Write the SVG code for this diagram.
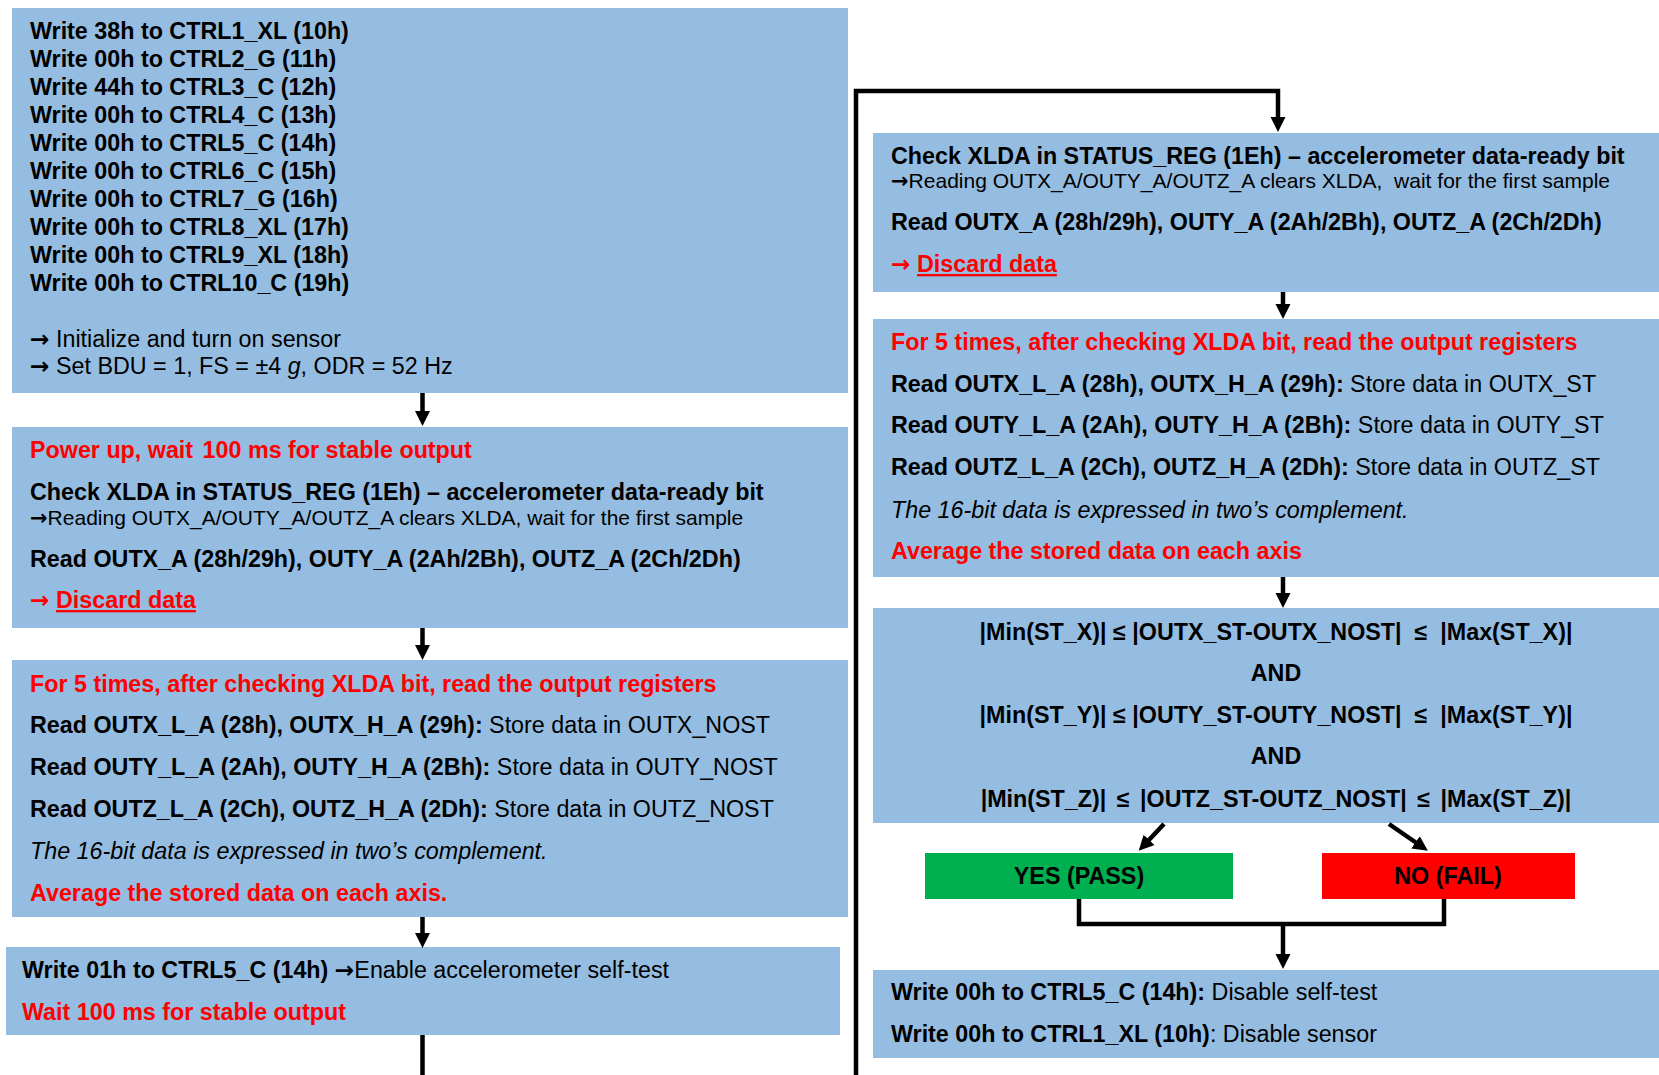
<svg xmlns="http://www.w3.org/2000/svg" width="1659" height="1075" viewBox="0 0 1659 1075">
<style>
.box{fill:#95BDE1}
text{font-family:"Liberation Sans",Arial,sans-serif;font-size:23.3px;fill:#000}
.b{font-weight:bold}
.red{fill:#FF0000}
.s{font-size:21px}
.it{font-style:italic}
.u{text-decoration:underline}
.c{text-anchor:middle}
.ar{font-family:"DejaVu Sans",sans-serif;font-weight:bold}
.conn{stroke:#000;stroke-width:4.5;fill:none}
</style>
<defs>
<marker id="ah" markerUnits="userSpaceOnUse" markerWidth="16" markerHeight="16" viewBox="0 0 16 16" refX="3" refY="7.5" orient="auto">
<path d="M0,0 L15,7.5 L0,15 z" fill="#000"/>
</marker>
</defs>
<rect width="1659" height="1075" fill="#fff"/>

<g id="init">
<rect class="box" x="12" y="8" width="836" height="385"/>
<text class="b" x="30" y="39">Write 38h to CTRL1_XL (10h)</text>
<text class="b" x="30" y="67">Write 00h to CTRL2_G (11h)</text>
<text class="b" x="30" y="95">Write 44h to CTRL3_C (12h)</text>
<text class="b" x="30" y="123">Write 00h to CTRL4_C (13h)</text>
<text class="b" x="30" y="151">Write 00h to CTRL5_C (14h)</text>
<text class="b" x="30" y="179">Write 00h to CTRL6_C (15h)</text>
<text class="b" x="30" y="207">Write 00h to CTRL7_G (16h)</text>
<text class="b" x="30" y="235">Write 00h to CTRL8_XL (17h)</text>
<text class="b" x="30" y="263">Write 00h to CTRL9_XL (18h)</text>
<text class="b" x="30" y="291">Write 00h to CTRL10_C (19h)</text>
<text x="30" y="347"><tspan class="ar">→</tspan> Initialize and turn on sensor</text>
<text x="30" y="374"><tspan class="ar">→</tspan> Set BDU = 1, FS = ±4 <tspan class="it">g</tspan>, ODR = 52 Hz</text>
</g>

<g id="powerup">
<rect class="box" x="12" y="427" width="836" height="201"/>
<text class="b red" x="30" y="458">Power up, wait <tspan dx="3">100 ms for stable output</tspan></text>
<text class="b" x="30" y="500">Check XLDA in STATUS_REG (1Eh) – accelerometer data-ready bit</text>
<text class="s" x="30" y="525"><tspan class="ar">→</tspan>Reading OUTX_A/OUTY_A/OUTZ_A clears XLDA, wait for the first sample</text>
<text class="b" x="30" y="567">Read OUTX_A (28h/29h), OUTY_A (2Ah/2Bh), OUTZ_A (2Ch/2Dh)</text>
<text class="b red" x="30" y="608"><tspan class="ar">→</tspan> <tspan class="u">Discard data</tspan></text>
</g>

<g id="nost">
<rect class="box" x="12" y="660" width="836" height="257"/>
<text class="b red" x="30" y="692">For 5 times, after checking XLDA bit, read the output registers</text>
<text x="30" y="733"><tspan class="b">Read OUTX_L_A (28h), OUTX_H_A (29h):</tspan> Store data in OUTX_NOST</text>
<text x="30" y="775"><tspan class="b">Read OUTY_L_A (2Ah), OUTY_H_A (2Bh):</tspan> Store data in OUTY_NOST</text>
<text x="30" y="817"><tspan class="b">Read OUTZ_L_A (2Ch), OUTZ_H_A (2Dh):</tspan> Store data in OUTZ_NOST</text>
<text class="it" x="30" y="859">The 16-bit data is expressed in two’s complement.</text>
<text class="b red" x="30" y="901">Average the stored data on each axis.</text>
</g>

<g id="enable">
<rect class="box" x="6" y="947" width="834" height="88"/>
<text x="22" y="978"><tspan class="b">Write 01h to CTRL5_C (14h) </tspan><tspan class="ar">→</tspan>Enable accelerometer self-test</text>
<text class="b red" x="22" y="1020">Wait 100 ms for stable output</text>
</g>

<g id="check2">
<rect class="box" x="873" y="133" width="786" height="159"/>
<text class="b" x="891" y="164">Check XLDA in STATUS_REG (1Eh) – accelerometer data-ready bit</text>
<text class="s" x="891" y="188" xml:space="preserve"><tspan class="ar">→</tspan>Reading OUTX_A/OUTY_A/OUTZ_A clears XLDA,  wait for the first sample</text>
<text class="b" x="891" y="230">Read OUTX_A (28h/29h), OUTY_A (2Ah/2Bh), OUTZ_A (2Ch/2Dh)</text>
<text class="b red" x="891" y="272"><tspan class="ar">→</tspan> <tspan class="u">Discard data</tspan></text>
</g>

<g id="st">
<rect class="box" x="873" y="319" width="786" height="258"/>
<text class="b red" x="891" y="350">For 5 times, after checking XLDA bit, read the output registers</text>
<text x="891" y="392"><tspan class="b">Read OUTX_L_A (28h), OUTX_H_A (29h):</tspan> Store data in OUTX_ST</text>
<text x="891" y="433"><tspan class="b">Read OUTY_L_A (2Ah), OUTY_H_A (2Bh):</tspan> Store data in OUTY_ST</text>
<text x="891" y="475"><tspan class="b">Read OUTZ_L_A (2Ch), OUTZ_H_A (2Dh):</tspan> Store data in OUTZ_ST</text>
<text class="it" x="891" y="518">The 16-bit data is expressed in two’s complement.</text>
<text class="b red" x="891" y="559">Average the stored data on each axis</text>
</g>

<g id="compare">
<rect class="box" x="873" y="608" width="786" height="215"/>
<text class="b c" x="1276" y="640" xml:space="preserve">|Min(ST_X)| ≤ |OUTX_ST-OUTX_NOST|  ≤  |Max(ST_X)|</text>
<text class="b c" x="1276" y="681">AND</text>
<text class="b c" x="1276" y="723" xml:space="preserve">|Min(ST_Y)| ≤ |OUTY_ST-OUTY_NOST|  ≤  |Max(ST_Y)|</text>
<text class="b c" x="1276" y="764">AND</text>
<text class="b c" x="1276" y="807" word-spacing="4">|Min(ST_Z)| ≤ |OUTZ_ST-OUTZ_NOST| ≤ |Max(ST_Z)|</text>
</g>

<g id="pass">
<rect x="925" y="853" width="308" height="46" fill="#00B050"/>
<text class="b c" x="1079" y="884">YES (PASS)</text>
</g>

<g id="fail">
<rect x="1322" y="853" width="253" height="46" fill="#FF0000"/>
<text class="b c" x="1448" y="884">NO (FAIL)</text>
</g>

<g id="disable">
<rect class="box" x="873" y="970" width="786" height="88"/>
<text x="891" y="1000"><tspan class="b">Write 00h to CTRL5_C (14h):</tspan> Disable self-test</text>
<text x="891" y="1042"><tspan class="b">Write 00h to CTRL1_XL (10h)</tspan>: Disable sensor</text>
</g>

<g id="connectors">
<path class="conn" d="M422.5,393 V414" marker-end="url(#ah)"/>
<path class="conn" d="M422.5,628 V648" marker-end="url(#ah)"/>
<path class="conn" d="M422.5,917 V936" marker-end="url(#ah)"/>
<path class="conn" d="M422.5,1035 V1075"/>
<path class="conn" d="M856,1075 V91 H1278 V120" marker-end="url(#ah)"/>
<path class="conn" d="M1283,292 V307" marker-end="url(#ah)"/>
<path class="conn" d="M1283,577 V596" marker-end="url(#ah)"/>
<path class="conn" d="M1164,824 L1147,842" marker-end="url(#ah)"/>
<path class="conn" d="M1389,824 L1418,844" marker-end="url(#ah)"/>
<path class="conn" d="M1079,899 V924 H1444 V899"/>
<path class="conn" d="M1283,924 V957" marker-end="url(#ah)"/>
</g>
</svg>
